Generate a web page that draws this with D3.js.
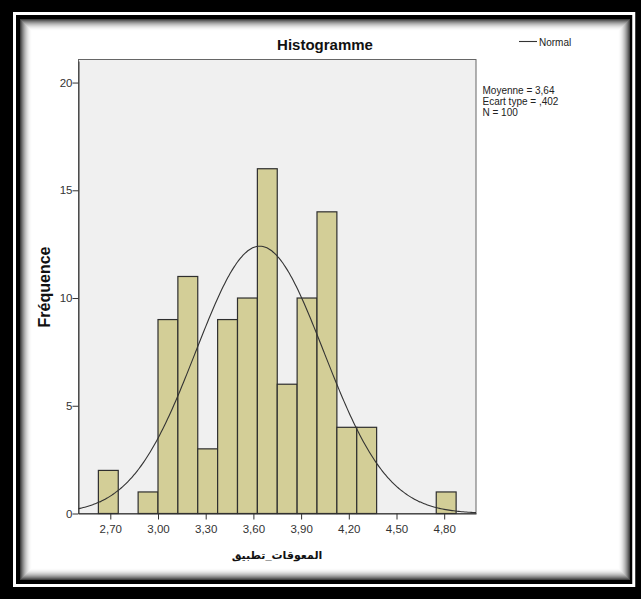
<!DOCTYPE html>
<html>
  <head>
    <meta charset="utf-8"/>
    <style>
    body {
      margin: 0;
      background: #fff;
    }
    text {
      font-family: Arial, "Liberation Sans", "DejaVu Sans", sans-serif;
    }
    </style>
  </head>
  <body>
    <script src="https://d3js.org/d3.v7.min.js"></script>
    <script>
    // histogram bins (lower edges) and counts
    var binStarts = [2.625, 2.875, 3.000, 3.125, 3.250, 3.375, 3.500, 3.625, 3.750, 3.875, 4.000, 4.125, 4.250, 4.750];
    var counts    = [2,     1,     9,     11,    3,     9,     10,    16,    6,     10,    14,    4,     4,     1];
    var binWidth = 0.125;

    var xTicks = [2.70, 3.00, 3.30, 3.60, 3.90, 4.20, 4.50, 4.80];
    var xTickLabels = ["2,70", "3,00", "3,30", "3,60", "3,90", "4,20", "4,50", "4,80"];
    var yTicks = [0, 5, 10, 15, 20];

    var mean = 3.64, sd = 0.402, n = 100;
    var statLines = ["Moyenne = 3,64", "Ecart type = ,402", "N = 100"];

    var width = 641, height = 599;

    var svg = d3.select("body").append("svg")
        .attr("width", width)
        .attr("height", height);

    drawFrame();

    var x = d3.scaleLinear().domain([2.5, 5.0]).range([78.5, 476]);
    var y = d3.scaleLinear().domain([0, 21]).range([513.5, 61]);

    // plot background
    svg.append("rect")
        .attr("x", 78.5)
        .attr("y", 59.5)
        .attr("width", 476 - 78.5)
        .attr("height", 513.5 - 59.5)
        .attr("fill", "#f0f0f0")
        .attr("stroke", "#666")
        .attr("stroke-width", 1);

    // bars
    svg.append("g").selectAll("rect")
        .data(binStarts)
      .enter().append("rect")
        .attr("x", function(d) { return x(d); })
        .attr("y", function(d, i) { return y(counts[i]); })
        .attr("width", function(d) { return x(d + binWidth) - x(d); })
        .attr("height", function(d, i) { return y(0) - y(counts[i]); })
        .attr("fill", "#d3ce97")
        .attr("stroke", "#2e2e2e")
        .attr("stroke-width", 1.2);

    // normal curve from the stated mean / sd
    var curveX = d3.range(2.5, 5.0001, 0.01);
    var line = d3.line()
        .x(function(d) { return x(d); })
        .y(function(d) {
          var z = (d - mean) / sd;
          return y(n * binWidth * Math.exp(-0.5 * z * z) / (sd * Math.sqrt(2 * Math.PI)));
        })
        .curve(d3.curveBasis);

    svg.append("path")
        .datum(curveX)
        .attr("d", line)
        .attr("fill", "none")
        .attr("stroke", "#333")
        .attr("stroke-width", 1.1);

    // axes
    var xAxis = d3.axisBottom(x)
        .tickValues(xTicks)
        .tickFormat(function(d, i) { return xTickLabels[i]; })
        .tickSize(6)
        .tickSizeOuter(0);

    var gx = svg.append("g")
        .attr("transform", "translate(0," + y(0) + ")")
        .call(xAxis);
    gx.select(".domain").attr("stroke", "#333");
    gx.selectAll(".tick line").attr("stroke", "#333");
    gx.selectAll(".tick text")
        .attr("font-family", "Arial, 'Liberation Sans', sans-serif")
        .attr("font-size", 11.5)
        .attr("fill", "#333")
        .attr("dy", "0.95em");

    var yAxis = d3.axisLeft(y)
        .tickValues(yTicks)
        .tickSize(6)
        .tickSizeOuter(0);

    var gy = svg.append("g")
        .attr("transform", "translate(78.5,0)")
        .call(yAxis);
    gy.select(".domain").attr("stroke", "#333");
    gy.selectAll(".tick line").attr("stroke", "#333");
    gy.selectAll(".tick text")
        .attr("font-family", "Arial, 'Liberation Sans', sans-serif")
        .attr("font-size", 11.5)
        .attr("fill", "#333")
        .attr("x", -6);

    // titles
    svg.append("text")
        .attr("x", 325)
        .attr("y", 50)
        .attr("text-anchor", "middle")
        .attr("font-size", 15)
        .attr("font-weight", "bold")
        .attr("fill", "#111")
        .text("Histogramme");

    svg.append("text")
        .attr("transform", "translate(50,287) rotate(-90)")
        .attr("text-anchor", "middle")
        .attr("font-size", 16)
        .attr("font-weight", "bold")
        .attr("fill", "#111")
        .text("Fréquence");

    svg.append("text")
        .attr("x", 277)
        .attr("y", 559)
        .attr("text-anchor", "middle")
        .attr("font-size", 11)
        .attr("font-weight", "bold")
        .attr("fill", "#111")
        .text("المعوقات_تطبيق");

    // legend
    svg.append("line")
        .attr("x1", 519).attr("x2", 537)
        .attr("y1", 41.5).attr("y2", 41.5)
        .attr("stroke", "#333")
        .attr("stroke-width", 1.1);

    svg.append("text")
        .attr("x", 539)
        .attr("y", 45.5)
        .attr("font-size", 10)
        .attr("fill", "#222")
        .text("Normal");

    svg.append("g").selectAll("text")
        .data(statLines)
      .enter().append("text")
        .attr("x", 482.5)
        .attr("y", function(d, i) { return 94 + i * 11; })
        .attr("font-size", 10)
        .attr("fill", "#222")
        .text(function(d) { return d; });

    function drawFrame(){

      svg.append("rect")
          .attr("width", width)
          .attr("height", height)
          .attr("fill", "#000");

      svg.append("rect")
          .attr("x", 14.5)
          .attr("y", 13.5)
          .attr("width", 619.25)
          .attr("height", 572)
          .attr("fill", "none")
          .attr("stroke", "#fff")
          .attr("stroke-width", 3);

      svg.append("rect")
          .attr("x", 20)
          .attr("y", 19)
          .attr("width", 610)
          .attr("height", 561)
          .attr("fill", "#fff");

      // soft inner shadow
      svg.append("g").selectAll("rect")
          .data(d3.range(12))
        .enter().append("rect")
          .attr("x", function(i) { return 20.5 + i; })
          .attr("y", function(i) { return 19.5 + i; })
          .attr("width", function(i) { return 609 - 2 * i; })
          .attr("height", function(i) { return 560 - 2 * i; })
          .attr("fill", "none")
          .attr("stroke", "#000")
          .attr("stroke-opacity", function(i) { return 0.75 * Math.pow(1 - i / 12, 2); });

    }

    </script>
  </body>
</html>
